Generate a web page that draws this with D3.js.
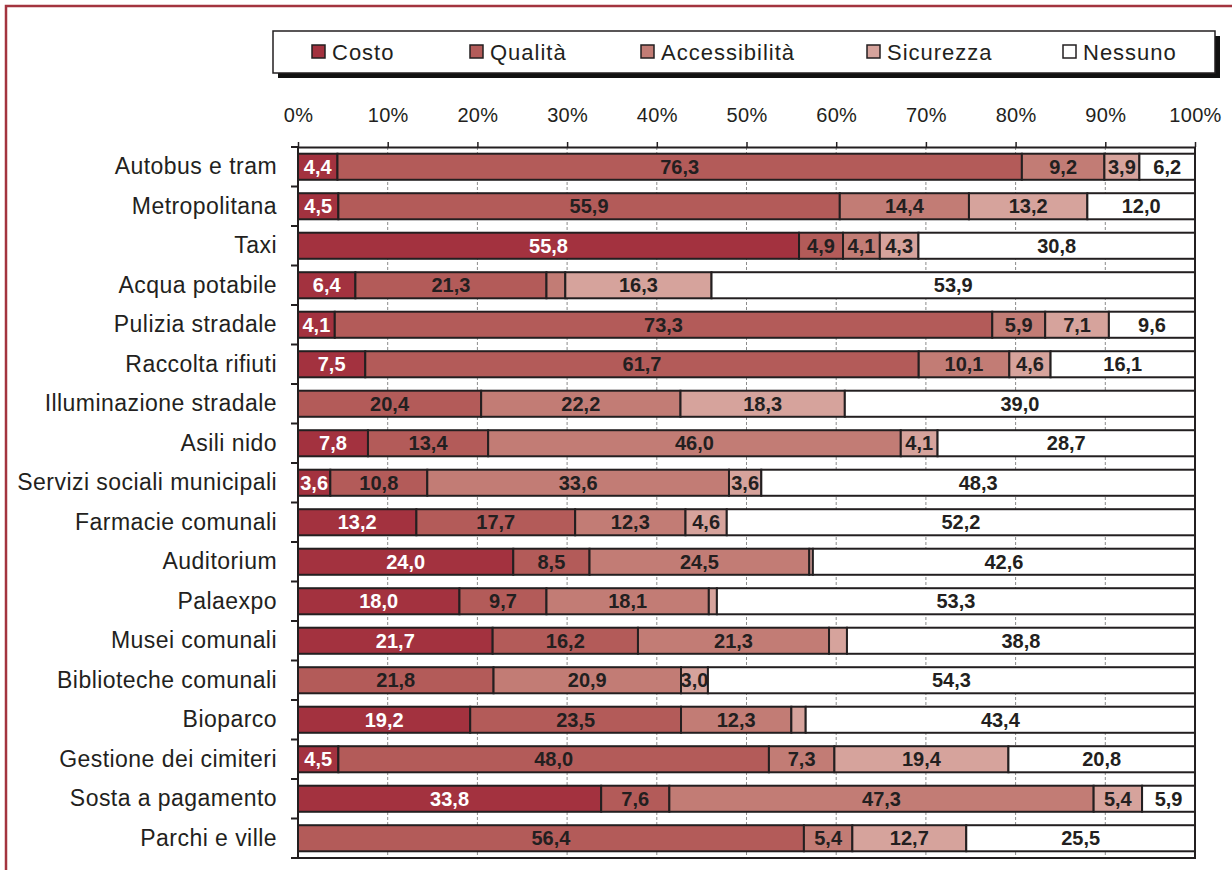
<!DOCTYPE html>
<html>
<head>
<meta charset="utf-8">
<script src="https://cdn.jsdelivr.net/npm/d3@7"></script>
<style>
  html, body { margin: 0; padding: 0; background: #fff; }
  svg { display: block; font-family: "Liberation Sans", Arial, sans-serif; }
</style>
</head>
<body>
<svg id="chart" width="1232" height="870"></svg>
<script>
// Servizi: motivo principale di insoddisfazione (% per servizio)
const categories = [
  "Autobus e tram", "Metropolitana", "Taxi", "Acqua potabile",
  "Pulizia stradale", "Raccolta rifiuti", "Illuminazione stradale",
  "Asili nido", "Servizi sociali municipali", "Farmacie comunali",
  "Auditorium", "Palaexpo", "Musei comunali", "Biblioteche comunali",
  "Bioparco", "Gestione dei cimiteri", "Sosta a pagamento", "Parchi e ville"
];
const costo         = [4.4, 4.5, 55.8, 6.4, 4.1, 7.5, 0, 7.8, 3.6, 13.2, 24.0, 18.0, 21.7, 0, 19.2, 4.5, 33.8, 0];
const qualita       = [76.3, 55.9, 4.9, 21.3, 73.3, 61.7, 20.4, 13.4, 10.8, 17.7, 8.5, 9.7, 16.2, 21.8, 23.5, 48.0, 7.6, 56.4];
const accessibilita = [9.2, 14.4, 4.1, 2.1, 5.9, 10.1, 22.2, 46.0, 33.6, 12.3, 24.5, 18.1, 21.3, 20.9, 12.3, 7.3, 47.3, 5.4];
const sicurezza     = [3.9, 13.2, 4.3, 16.3, 7.1, 4.6, 18.3, 4.1, 3.6, 4.6, 0.4, 0.9, 2.0, 3.0, 1.6, 19.4, 5.4, 12.7];
const nessuno       = [6.2, 12.0, 30.8, 53.9, 9.6, 16.1, 39.0, 28.7, 48.3, 52.2, 42.6, 53.3, 38.8, 54.3, 43.4, 20.8, 5.9, 25.5];

const seriesNames = ["Costo", "Qualità", "Accessibilità", "Sicurezza", "Nessuno"];
const seriesKeys  = ["costo", "qualita", "accessibilita", "sicurezza", "nessuno"];
const seriesColors = ["#a3323f", "#b35b59", "#c27c75", "#d6a39c", "#ffffff"];
const labelColors  = ["#ffffff", "#231f20", "#231f20", "#231f20", "#231f20"];
const xTicks = [0, 10, 20, 30, 40, 50, 60, 70, 80, 90, 100];

const rows = categories.map((c, i) => ({
  name: c,
  costo: costo[i], qualita: qualita[i], accessibilita: accessibilita[i],
  sicurezza: sicurezza[i], nessuno: nessuno[i]
}));

const svg = d3.select("#chart");
const ink = "#231f20";

// outer frame
svg.append("path")
  .attr("d", "M6,870 V6 H1232")
  .attr("fill", "none").attr("stroke", "#a3343f").attr("stroke-width", 2.5);

const plotLeft = 298, plotRight = 1195, plotTop = 147, plotBottom = 858;

const x = d3.scaleLinear().domain([0, 100]).range([plotLeft, plotRight]);
const y = d3.scaleBand().domain(categories).range([plotTop, plotBottom])
  .paddingInner(0.34).paddingOuter(0.17);

// gridlines
svg.append("g").selectAll("line").data(xTicks.slice(1, -1)).join("line")
  .attr("x1", d => x(d)).attr("x2", d => x(d))
  .attr("y1", plotTop).attr("y2", plotBottom)
  .attr("stroke", "#8c8c8c").attr("stroke-width", 1)
  .attr("stroke-dasharray", "3,2");

// stacked bars (normalised to 100%)
const stack = d3.stack().keys(seriesKeys).offset(d3.stackOffsetExpand);
const stacked = stack(rows);

const layers = svg.append("g").selectAll("g").data(stacked).join("g")
  .attr("fill", (d, i) => seriesColors[i]);

layers.selectAll("rect").data(d => d).join("rect")
  .attr("x", d => x(d[0] * 100))
  .attr("width", d => Math.max(0, x(d[1] * 100) - x(d[0] * 100)))
  .attr("y", d => y(d.data.name))
  .attr("height", y.bandwidth())
  .attr("stroke", d => (d[1] - d[0]) > 0 ? ink : "none")
  .attr("stroke-width", 2);

// value labels
const fmt = v => v.toFixed(1).replace(".", ",");
stacked.forEach((layer, si) => {
  svg.append("g").selectAll("text")
    .data(layer.filter(d => d.data[seriesKeys[si]] >= 2.5))
    .join("text")
    .attr("x", d => x((d[0] + d[1]) / 2 * 100))
    .attr("y", d => y(d.data.name) + y.bandwidth() / 2)
    .attr("dy", "0.36em")
    .attr("text-anchor", "middle")
    .attr("font-size", 20).attr("font-weight", "bold")
    .attr("fill", labelColors[si])
    .text(d => fmt(d.data[seriesKeys[si]]));
});

// plot frame: right and bottom edges
svg.append("path")
  .attr("d", `M${plotLeft},${plotBottom} H${plotRight} V${plotTop}`)
  .attr("fill", "none").attr("stroke", ink).attr("stroke-width", 2);

// top axis
const xAxis = d3.axisTop(x).tickValues(xTicks).tickFormat(d => d + "%")
  .tickSize(5).tickSizeOuter(0).tickPadding(20);
const gx = svg.append("g").attr("transform", `translate(0,${plotTop})`).call(xAxis);
gx.select(".domain").attr("stroke", ink).attr("stroke-width", 2);
gx.selectAll(".tick line").attr("stroke", ink).attr("stroke-width", 1.5);
gx.selectAll("text").attr("font-size", 20).attr("fill", ink)
  .attr("letter-spacing", 0.3)
  .attr("font-family", "'Liberation Sans', Arial, sans-serif");

// left axis with category names
const yAxis = d3.axisLeft(y).tickSize(0).tickPadding(21);
const gy = svg.append("g").attr("transform", `translate(${plotLeft},0)`).call(yAxis);
gy.select(".domain").remove();
gy.selectAll("text").attr("font-size", 23).attr("fill", ink)
  .attr("letter-spacing", 0.45)
  .attr("font-family", "'Liberation Sans', Arial, sans-serif");

svg.append("line")
  .attr("x1", plotLeft).attr("x2", plotLeft).attr("y1", plotTop).attr("y2", plotBottom)
  .attr("stroke", ink).attr("stroke-width", 2);

// band boundary ticks
const bounds = categories.map(c => y(c) - y.step() * y.paddingInner() / 2);
bounds.push(plotBottom);
svg.append("g").selectAll("line").data(bounds).join("line")
  .attr("x1", plotLeft - 7).attr("x2", plotLeft)
  .attr("y1", d => d).attr("y2", d => d)
  .attr("stroke", ink).attr("stroke-width", 2);

// legend
const lg = svg.append("g");
lg.append("rect").attr("x", 278).attr("y", 36).attr("width", 942).attr("height", 42)
  .attr("fill", "#111");
lg.append("rect").attr("x", 273).attr("y", 31).attr("width", 942).attr("height", 42)
  .attr("fill", "#fff").attr("stroke", ink).attr("stroke-width", 1.5);

const legendX = [312, 470, 641, 867, 1063];
const items = lg.selectAll("g.item").data(seriesNames).join("g")
  .attr("class", "item")
  .attr("transform", (d, i) => `translate(${legendX[i]},52)`);
items.append("rect")
  .attr("x", 0).attr("y", -7).attr("width", 13).attr("height", 13)
  .attr("fill", (d, i) => seriesColors[i])
  .attr("stroke", ink).attr("stroke-width", 1.5);
items.append("text")
  .attr("x", 20).attr("dy", "0.36em")
  .attr("font-size", 22).attr("fill", ink)
  .attr("letter-spacing", 1)
  .text(d => d);
</script>
</body>
</html>
